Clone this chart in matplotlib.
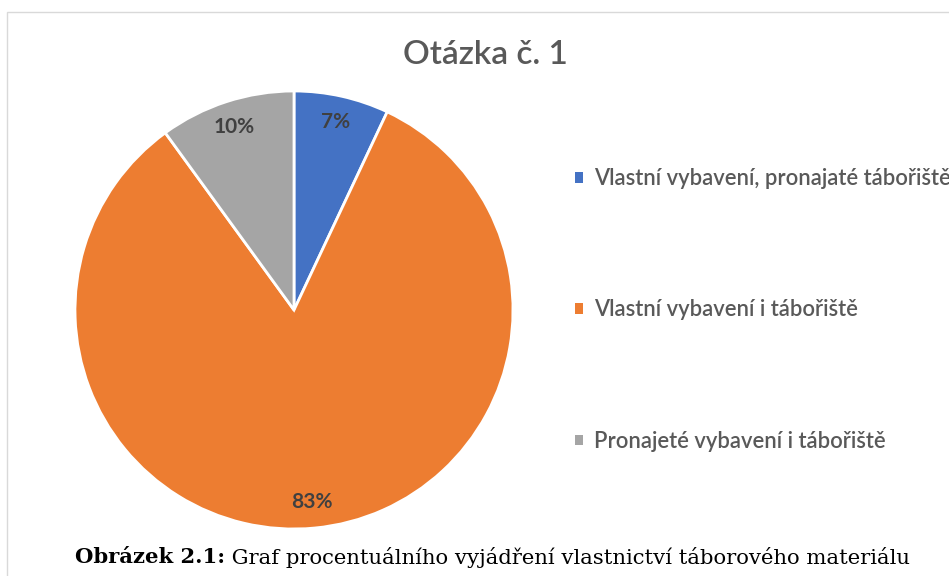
"""Pie chart: Otázka č. 1 - vlastnictví táborového materiálu."""
import matplotlib
matplotlib.use("Agg")
import matplotlib.pyplot as plt
from matplotlib.patches import Patch, Rectangle

LABELS = ["Vlastní vybavení, pronajaté tábořiště",
          "Vlastní vybavení i tábořiště",
          "Pronajeté vybavení i tábořiště"]
VALUES = [7, 83, 10]
COLORS = ["#4472C4", "#ED7D31", "#A5A5A5"]
TITLE = "Otázka č. 1"
CAPTION_BOLD = "Obrázek 2.1:"
CAPTION_TEXT = " Graf procentuálního vyjádření vlastnictví táborového materiálu"

W, H = 949, 576
plt.rcParams["font.family"] = ["Lato", "DejaVu Sans"]

fig = plt.figure(figsize=(W / 100, H / 100), dpi=100)

# light frame of the chart area (runs off the right/bottom edge)
fig.patches.append(Rectangle((7 / W, -0.1), 1.2, 1 - 12 / H + 0.1,
                             transform=fig.transFigure, fill=False,
                             edgecolor="#d9d9d9", linewidth=1.0))

cx, cy, r = 294, 310, 219
ax = fig.add_axes([(cx - r) / W, (H - cy - r) / H, 2 * r / W, 2 * r / H])
wedges, texts, autotexts = ax.pie(
    VALUES, colors=COLORS, startangle=90, counterclock=False,
    autopct="%d%%", pctdistance=0.88,
    wedgeprops=dict(edgecolor="white", linewidth=2.0),
    textprops=dict(fontsize=15, fontweight="bold", color="#404040"))
ax.set_xlim(-1, 1)
ax.set_ylim(-1, 1)
ax.set_aspect("equal")
ax.axis("off")

fig.text(485 / W, 1 - 55 / H, TITLE, ha="center", va="center",
         fontsize=24, fontweight="semibold", color="#595959")

handles = [Patch(facecolor=c, edgecolor="none") for c in COLORS]
fig.legend(handles, LABELS, loc="center left",
           bbox_to_anchor=(555 / W, 1 - 310 / H), frameon=False,
           prop=dict(size=15.8, weight="semibold"), labelcolor="#595959",
           handlelength=0.38, handleheight=0.38, handletextpad=0.5,
           labelspacing=5.03)

# caption in LaTeX-like style below the chart
fig.canvas.draw()
renderer = fig.canvas.get_renderer()
t1 = fig.text(75 / W, 1 - 557 / H, CAPTION_BOLD, ha="left", va="center",
              fontsize=15.2, fontweight="bold", family="DejaVu Serif",
              color="black")
bb = t1.get_window_extent(renderer=renderer)
fig.text(bb.x1 / W, 1 - 557 / H, CAPTION_TEXT, ha="left", va="center",
         fontsize=15.2, family="DejaVu Serif", color="black")

fig.savefig("out.png", dpi=100)
